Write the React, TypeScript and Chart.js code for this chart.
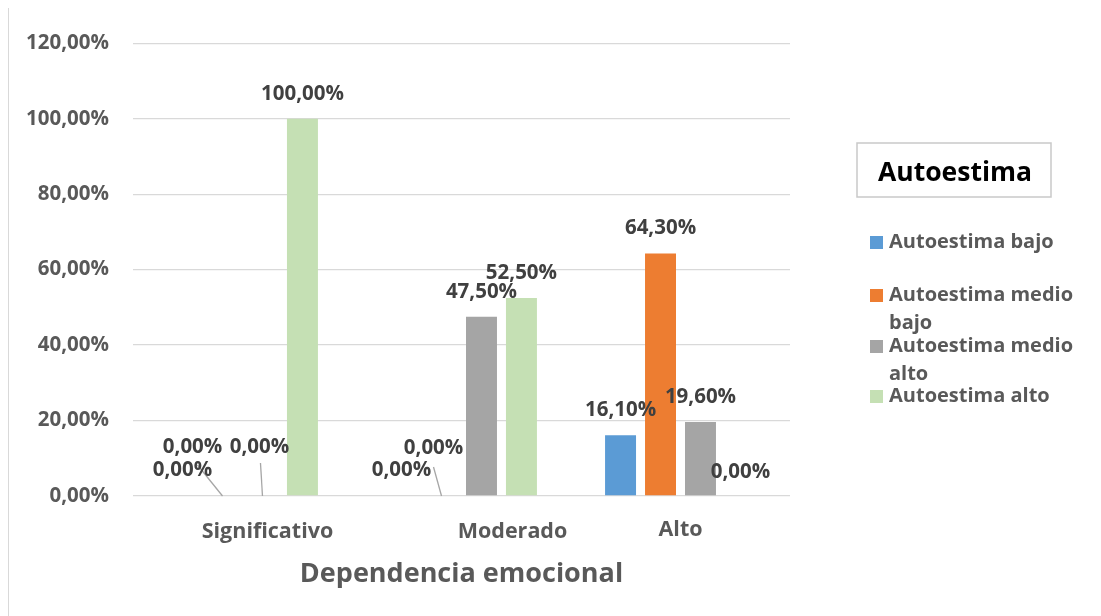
import { useEffect, useRef } from "react";
import { Chart, registerables } from "chart.js";

Chart.register(...registerables);

// Dependencia emocional (categories) vs. Autoestima levels (series), in percent
const categories = ["Significativo", "Moderado", "Alto"];
const seriesNames = [
  "Autoestima bajo",
  "Autoestima medio bajo",
  "Autoestima medio alto",
  "Autoestima alto",
];
const autoestimaBajo = [0, 0, 16.1];
const autoestimaMedioBajo = [0, 0, 64.3];
const autoestimaMedioAlto = [0, 47.5, 19.6];
const autoestimaAlto = [100, 52.5, 0];
const yTickValues = [0, 20, 40, 60, 80, 100, 120];
const xAxisTitle = "Dependencia emocional";
const legendTitle = "Autoestima";

const seriesColors = ["#5B9BD5", "#ED7D31", "#A5A5A5", "#C5E0B4"];

const FONT = "'Open Sans', Lato, sans-serif";
const LABEL_COLOR = "#404040";
const AXIS_COLOR = "#595959";

const CANVAS_W = 1092;
const CANVAS_H = 609;

// Placement of the "0,00%" labels that sit near the baseline (offsets from bar centre / baseline)
const zeroLabelPlacement: Record<string, { dx: number; dy: number; leader?: [number, number] }> = {
  "0-0": { dx: 10, dy: -49 },
  "1-0": { dx: -40, dy: -26, leader: [15, -5] },
  "2-0": { dx: -3, dy: -49, leader: [1, 16] },
  "0-1": { dx: 32, dy: -48 },
  "1-1": { dx: -40, dy: -26, leader: [32, -3] },
  "3-2": { dx: 0, dy: -24 },
};

// Category label nudges along the axis
const categoryLabelShift = [
  { dx: 25, dy: 36 },
  { dx: 51, dy: 36 },
  { dx: 0, dy: 34 },
];

const fmtPct = (v: number) => v.toFixed(2).replace(".", ",") + "%";

function wrapWords(ctx: CanvasRenderingContext2D, text: string, maxW: number): string[] {
  const words = text.split(" ");
  const lines: string[] = [];
  let cur = "";
  for (const w of words) {
    const test = cur ? cur + " " + w : w;
    if (cur && ctx.measureText(test).width > maxW) {
      lines.push(cur);
      cur = w;
    } else {
      cur = test;
    }
  }
  if (cur) lines.push(cur);
  return lines;
}

const decorations = {
  id: "decorations",
  afterDraw(chart: any) {
    const ctx: CanvasRenderingContext2D = chart.ctx;
    const xScale = chart.scales.x;
    const yScale = chart.scales.y;
    const base = yScale.getPixelForValue(0);
    ctx.save();

    // value labels
    ctx.font = `bold 20.5px ${FONT}`;
    ctx.textAlign = "center";
    ctx.textBaseline = "middle";
    chart.data.datasets.forEach((ds: any, di: number) => {
      const meta = chart.getDatasetMeta(di);
      meta.data.forEach((bar: any, i: number) => {
        const v = ds.data[i] as number;
        const bx = bar.x;
        if (v !== 0) {
          ctx.fillStyle = LABEL_COLOR;
          ctx.fillText(fmtPct(v), bx, bar.y - 25);
          return;
        }
        const p = zeroLabelPlacement[`${di}-${i}`];
        if (!p) return;
        const lx = bx + p.dx;
        const ly = base + p.dy;
        if (p.leader) {
          ctx.strokeStyle = "#A6A6A6";
          ctx.lineWidth = 1.3;
          ctx.beginPath();
          ctx.moveTo(lx + p.leader[0], ly + p.leader[1]);
          ctx.lineTo(bx, base);
          ctx.stroke();
        }
        ctx.fillStyle = LABEL_COLOR;
        ctx.fillText(fmtPct(v), lx, ly);
      });
    });

    // category labels
    ctx.font = `bold 21.5px ${FONT}`;
    ctx.fillStyle = AXIS_COLOR;
    categories.forEach((c, i) => {
      const s = categoryLabelShift[i];
      ctx.fillText(c, xScale.getPixelForValue(i) + s.dx, base + s.dy);
    });

    // axis title
    ctx.font = `bold 27px ${FONT}`;
    ctx.fillText(xAxisTitle, (chart.chartArea.left + chart.chartArea.right) / 2, base + 78);

    // legend title box
    const boxL = 848, boxT = 136, boxW = 194, boxH = 54;
    ctx.strokeStyle = "#C9C9C9";
    ctx.lineWidth = 1.5;
    ctx.strokeRect(boxL, boxT, boxW, boxH);
    ctx.font = `bold 26.5px ${FONT}`;
    ctx.fillStyle = "#000000";
    ctx.fillText(legendTitle, boxL + boxW / 2 + 1, boxT + boxH / 2 + 3);

    // legend entries
    ctx.font = `bold 20px ${FONT}`;
    ctx.textAlign = "left";
    const markerX = 861;
    const textX = 880;
    const lineH = 28;
    const itemTops = [235, 288, 339, 389];
    chart.data.datasets.forEach((ds: any, di: number) => {
      const lines = wrapWords(ctx, ds.label, 198);
      const y0 = itemTops[di];
      ctx.fillStyle = ds.backgroundColor;
      ctx.fillRect(markerX, y0 - 6, 13, 13);
      ctx.fillStyle = AXIS_COLOR;
      lines.forEach((ln, k) => ctx.fillText(ln, textX, y0 + k * lineH));
    });

    ctx.restore();
  },
};

export default function App() {
  const ref = useRef<HTMLCanvasElement | null>(null);

  useEffect(() => {
    if (!ref.current) return;
    const values = [autoestimaBajo, autoestimaMedioBajo, autoestimaMedioAlto, autoestimaAlto];
    const chart = new Chart(ref.current, {
      type: "bar",
      data: {
        labels: categories,
        datasets: seriesNames.map((name, k) => ({
          label: name,
          data: values[k],
          backgroundColor: seriesColors[k],
          borderWidth: 0,
          categoryPercentage: 0.73,
          barPercentage: 0.775,
        })),
      },
      options: {
        responsive: false,
        animation: false,
        layout: { padding: { left: 0, top: 29, right: CANVAS_W - 781, bottom: CANVAS_H - 489 } },
        plugins: {
          legend: { display: false },
          tooltip: { enabled: false },
        },
        scales: {
          x: { display: false },
          y: {
            min: 0,
            max: 120,
            afterFit: (s: any) => {
              s.width = 124;
            },
            afterBuildTicks: (s: any) => {
              s.ticks = yTickValues.map((v) => ({ value: v }));
            },
            border: { display: false },
            grid: { color: "#D9D9D9", lineWidth: 1.3, drawTicks: false },
            ticks: {
              padding: 24,
              color: AXIS_COLOR,
              font: { family: FONT, size: 20.5, weight: "bold" },
              callback: (v: any) => fmtPct(Number(v)),
            },
          },
        },
      },
      plugins: [decorations],
    });
    return () => chart.destroy();
  }, []);

  return (
    <div
      style={{
        marginTop: -2,
        width: 1100,
        height: 620,
        border: "1px solid #D9D9D9",
        boxSizing: "border-box",
        background: "#fff",
      }}
    >
      <canvas ref={ref} width={CANVAS_W} height={CANVAS_H} style={{ display: "block" }} />
    </div>
  );
}
